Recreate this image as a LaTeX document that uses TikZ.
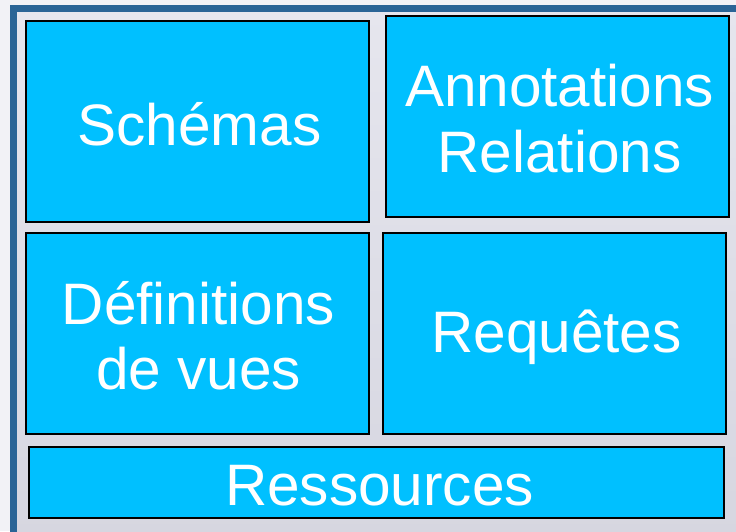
\documentclass[tikz,border=0pt]{standalone}
\usepackage{fontspec}
\setmainfont{Liberation Sans}
\definecolor{framebl}{HTML}{2A6496}
\definecolor{boxbl}{HTML}{00C0FF}
\definecolor{bgA}{HTML}{E6E6EE}
\definecolor{bgB}{HTML}{D6D6E0}
\definecolor{outbg}{HTML}{F2F2F6}
\tikzset{
  blk/.style={draw=black, line width=2pt, fill=boxbl, inner sep=0pt},
  lbl/.style={text=white, align=center, inner sep=0pt, font=\fontsize{58.5}{65.5}\selectfont}
}
\begin{document}
\begin{tikzpicture}[x=1pt,y=-1pt]
\useasboundingbox (0,0) rectangle (736,531);
\fill[outbg] (0,0) rectangle (736,531);
\shade[top color=bgA, bottom color=bgB] (13,8) rectangle (740,540);
\draw[framebl, line width=7pt] (13.5,8.5) rectangle (745,540);
\node[blk, minimum width=343pt, minimum height=201pt] (schemas) at (197.5,121) {};
\node[blk, minimum width=343pt, minimum height=201pt] (annot) at (557.5,116.5) {};
\node[blk, minimum width=343pt, minimum height=201pt] (defs) at (197.5,333.5) {};
\node[blk, minimum width=343pt, minimum height=201pt] (req) at (554.5,333.5) {};
\node[blk, minimum width=695pt, minimum height=71pt] (res) at (376.5,482.5) {};
\node[lbl] (tschemas) at ([shift={(2,3)}]schemas.center) {Schémas};
\node[lbl] (tannot) at ([shift={(2,2)}]annot.center) {Annotations\\Relations};
\node[lbl] (tdefs) at ([shift={(1,2)}]defs.center) {Définitions\\de vues};
\node[lbl] (treq) at ([shift={(2,4)}]req.center) {Requêtes};
\node[lbl] (tres) at ([shift={(3,3)}]res.center) {Ressources};
\end{tikzpicture}
\end{document}
